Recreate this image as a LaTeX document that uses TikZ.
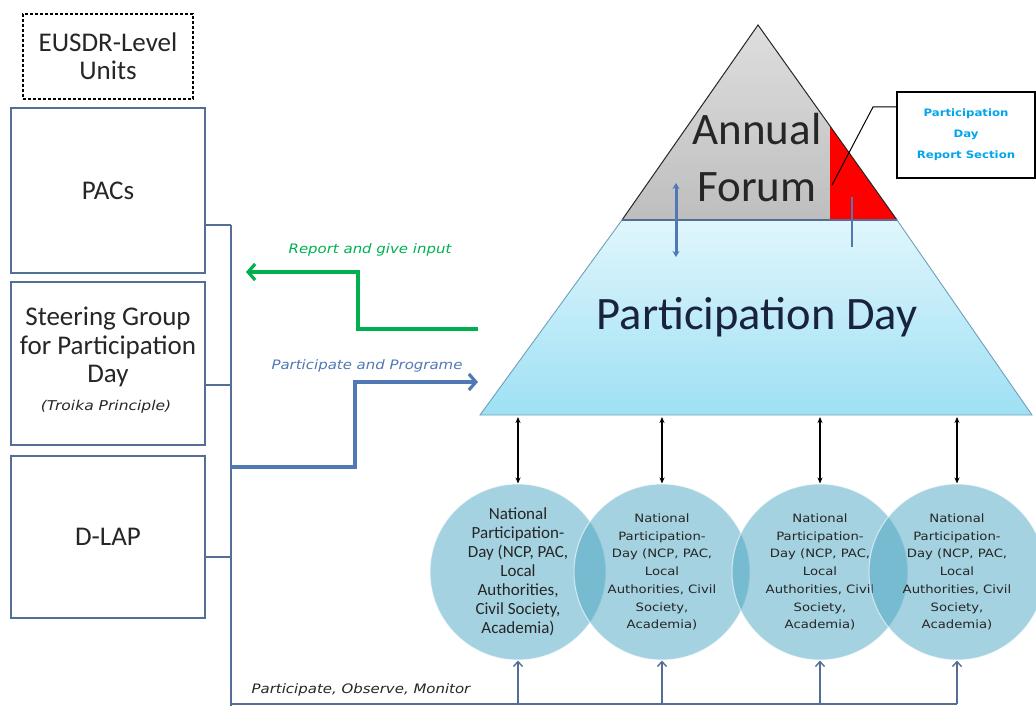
\documentclass[tikz,border=0pt]{standalone}
\usepackage{fontspec}
\setmainfont{Carlito}
\newfontfamily\dv{DejaVu Sans}
\newfontfamily\dvw{DejaVu Sans}[FakeStretch=1.15]
\usetikzlibrary{arrows.meta}
\definecolor{boxline}{RGB}{84,110,150}
\definecolor{bluearr}{RGB}{79,120,180}
\definecolor{greenarr}{RGB}{0,176,80}
\definecolor{circfill}{RGB}{75,165,193}
\definecolor{cyantxt}{RGB}{0,165,235}
\definecolor{trapT}{RGB}{224,246,252}
\definecolor{trapB}{RGB}{158,224,244}
\definecolor{trapline}{RGB}{110,160,185}
\definecolor{grayT}{RGB}{222,222,222}
\definecolor{grayB}{RGB}{190,190,190}
\definecolor{txt}{RGB}{38,38,38}
\definecolor{navy}{RGB}{25,35,60}
\begin{document}
\begin{tikzpicture}[x=1pt,y=-1pt,
  ubox/.style={draw=boxline, line width=1.2pt, minimum width=194pt, inner sep=0pt, fill=white, text=txt, font=\fontsize{27}{28.5}\selectfont, align=center},
  bus/.style={draw=boxline, line width=1.3pt},
  lbl/.style={font=\dvw\itshape\fontsize{13}{15}\selectfont},
  circ/.style={circle, minimum size=176pt, inner sep=0pt, fill=circfill, fill opacity=0.5, text opacity=1, draw=white, draw opacity=0.6, line width=1pt, align=center, text=txt},
  circa/.style={circ, font=\fontsize{17}{19}\selectfont},
  circb/.style={circ, font=\dvw\fontsize{11.5}{17.7}\selectfont},
  thick arrow/.style={line width=3.2pt, -{Straight Barb[length=7pt,width=16pt]}},
  dbl/.style={line width=1.2pt, {Stealth[length=6pt,width=5pt]}-{Stealth[length=6pt,width=5pt]}},
  uparr/.style={draw=boxline, line width=1.4pt, -{Straight Barb[length=5pt,width=9pt]}}
]
\useasboundingbox (0,0) rectangle (1036,706);

% left column
\node[draw=black, line width=1.2pt, dash pattern=on 3pt off 2pt, minimum width=170pt, minimum height=85pt, align=center, text=txt, font=\fontsize{27}{28}\selectfont] (eus) at (108,56.5) {EUSDR-Level\\Units};
\node[ubox, minimum height=165pt] (pacs) at (108,190.5) {PACs};
\node[ubox, minimum height=163pt] (steer) at (108,363.5) {};
\node[text=txt, font=\fontsize{27}{28.5}\selectfont, align=center, inner sep=0pt] (steertxt) at (108,347) {Steering Group\\for Participation\\Day};
\node[lbl, text=txt, font=\dvw\itshape\fontsize{13.5}{15}\selectfont] (troika) at (106,407) {(Troika Principle)};
\node[ubox, minimum height=162pt] (dlap) at (108,537) {D-LAP};

% bus
\coordinate (bustop) at (231,225);
\coordinate (busS) at (231,385);
\coordinate (busP) at (231,467);
\coordinate (busD) at (231,557);
\coordinate (busbot) at (231,704);
\draw[bus] (pacs.east |- bustop) -- (bustop);
\draw[bus] (steer.east |- busS) -- (busS);
\draw[bus] (dlap.east |- busD) -- (busD);
\draw[bus] (bustop) -- (231,706);
\coordinate (busend) at (957,704);
\draw[bus] (busbot) -- (busend);

% triangle
\coordinate (apex) at (758,25);
\coordinate (tl) at (622,220);
\coordinate (tr) at (897,220);
\coordinate (bl) at (480,415);
\coordinate (br) at (1032,415);
\coordinate (rtop) at (830,126);
\coordinate (rbot) at (830,220);
\shade[top color=trapT, bottom color=trapB] (tl) -- (tr) -- (br) -- (bl) -- cycle;
\draw[trapline, line width=0.9pt] (tl) -- (bl) -- (br) -- (tr);
\shade[top color=grayT, bottom color=grayB] (apex) -- (tl) -- (tr) -- cycle;
\fill[red] (rtop) -- (rbot) -- (tr) -- cycle;
\draw[black!85, line width=1pt] (tl) -- (apex) -- (tr);
\draw[boxline, line width=1.2pt] (tl) -- (tr);
\node[text=txt, font=\fontsize{45}{57}\selectfont, align=center] (af) at (757,158) {Annual\\Forum};
\node[text=navy, font=\fontsize{46.5}{54}\selectfont] (pd) at (757,317) {Participation Day};

% arrows inside
\draw[bluearr, line width=3pt, {Stealth[length=6pt,width=7pt]}-{Stealth[length=6pt,width=7pt]}] (676,183) -- (676,257);
\draw[bluearr, line width=2.5pt] (852,197) -- (852,247);

% callout
\node[draw=black, line width=1.3pt, fill=white, minimum width=138pt, minimum height=86pt, align=center, text=cyantxt, font=\dvw\bfseries\fontsize{10.2}{21}\selectfont] (rep) at (966,135) {Participation\\Day\\Report Section};
\coordinate (ck) at (873,107);
\coordinate (cp) at (832,185);
\draw[black, line width=1pt] (rep.west |- ck) -- (ck) -- (cp);

% green and blue arrows
\coordinate (gout) at (478,329);
\coordinate (gk) at (358,272);
\coordinate (gend) at (246,272);
\draw[greenarr, thick arrow] (gout) -| (gk) -- (gend);
\node[lbl, text=greenarr] (glbl) at (370,250) {Report and give input};
\coordinate (pk) at (355,382);
\coordinate (pin) at (478,382);
\draw[bluearr, thick arrow] (busP) -| (pk) -- (pin);
\node[lbl, text=bluearr] (blbl) at (367,366) {Participate and Programe};
\node[lbl, text=txt] (olbl) at (361,690) {Participate, Observe, Monitor};

% circles
\node[circa] (c1) at (518,572) {National\\Participation-\\Day (NCP, PAC,\\Local\\Authorities,\\Civil Society,\\Academia)};
\node[circb] (c2) at (662,572) {National\\Participation-\\Day (NCP, PAC,\\Local\\Authorities, Civil\\Society,\\Academia)};
\node[circb] (c3) at (820,572) {National\\Participation-\\Day (NCP, PAC,\\Local\\Authorities, Civil\\Society,\\Academia)};
\node[circb] (c4) at (957,572) {National\\Participation-\\Day (NCP, PAC,\\Local\\Authorities, Civil\\Society,\\Academia)};

% connectors to circles
\foreach \c/\x in {c1/518,c2/662,c3/820,c4/957}{
  \coordinate (t\c) at (\x,417);
  \draw[dbl] (t\c) -- (\c.north);
  \draw[uparr] (\c.south |- busbot) -- (\c.south);
}
\end{tikzpicture}
\end{document}
